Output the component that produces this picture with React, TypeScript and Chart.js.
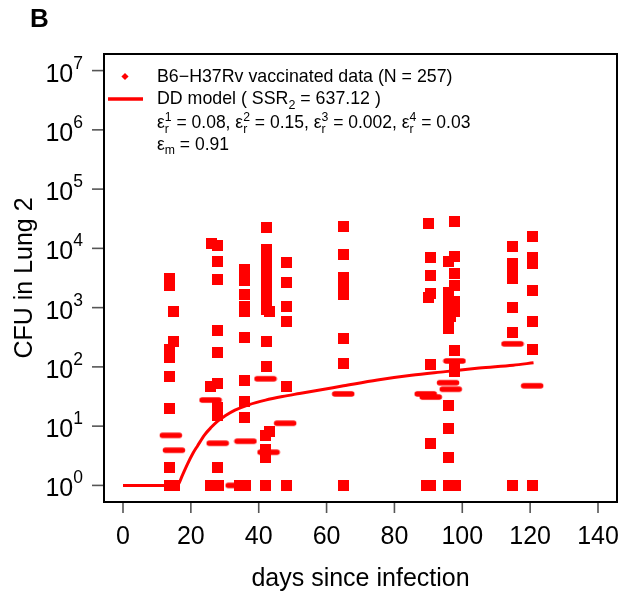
import React, { useEffect, useRef } from 'react';
import { Chart, registerables } from 'chart.js';

Chart.register(...registerables);

const RED = '#FF0000';
const FONT = '"Liberation Sans", Arial, Helvetica, sans-serif';

// ---- axis ticks ----
const xTicks = [0, 20, 40, 60, 80, 100, 120, 140];
const yExponents = [0, 1, 2, 3, 4, 5, 6, 7];

// ---- observed data (squares) ----
const squareDays = [
  13.8, 13.8, 15.0, 15.0, 13.8, 13.8, 13.8, 13.8, 13.8, 13.8, 15.3,
  26.1, 27.9, 27.9, 27.9, 27.9, 27.9, 25.8, 27.9, 27.9, 27.9, 27.9, 25.8, 28.2,
  35.8, 35.8, 35.8, 35.8, 35.8, 35.8, 35.8, 35.8, 35.8, 34.3, 36.1,
  42.3, 42.3, 42.3, 42.3, 42.3, 42.3, 42.3, 42.3, 43.1, 42.3, 42.3, 43.1, 42.0, 42.0, 42.0, 42.0,
  48.1, 48.1, 48.1, 48.1, 48.1, 48.1,
  64.9, 64.9, 64.9, 64.9, 64.9, 64.9, 64.9, 64.9,
  90.1, 90.7, 90.7, 90.7, 90.1, 90.7, 90.7, 89.5, 90.7,
  95.8, 95.8, 95.8, 95.8, 95.8, 95.8, 95.8, 95.8, 95.8, 95.8,
  97.7, 97.7, 97.7, 97.7, 97.7, 97.7, 96.6, 97.7, 97.7, 97.7, 98.0,
  114.8, 114.8, 114.8, 114.8, 114.8, 114.8, 114.8,
  120.6, 120.6, 120.6, 120.6, 120.6, 120.6, 120.6,
];
const squareCfu = [
  3125, 2340, 855, 265, 194, 142, 69, 19.8, 2.0, 1, 1,
  12200, 11200, 6000, 2980, 408, 176, 46, 53, 21, 15.4, 2.0, 1, 1,
  4400, 2870, 1660, 1040, 855, 316, 59, 26, 13.9, 1, 1,
  22200, 9600, 6500, 4400, 2980, 2020, 1370, 925, 855, 265, 100, 8.07, 6.9, 4.0, 2.98, 1,
  5800, 2650, 1040, 579, 47, 1,
  23600, 7900, 3220, 2270, 1660, 307, 112, 1,
  26500, 6900, 3420, 1730, 1510, 110, 5.05, 1, 1,
  5900, 1800, 1220, 823, 557, 440, 22, 9.25, 2.92, 1,
  28100, 7180, 3840, 2400, 1260, 855, 703, 187, 100, 85, 1,
  10800, 5460, 3920, 3160, 1000, 377, 1,
  16000, 7040, 5570, 1950, 579, 194, 1,
];

// ---- observed data (dashes) ----
const dashDays = [14.1, 15.0, 25.8, 27.9, 36.1, 33.5, 42.0, 42.9, 47.8, 64.9, 89.2, 90.7, 97.7, 95.8, 96.6, 114.8, 120.6];
const dashCfu = [7.0, 3.92, 27.6, 5.15, 5.57, 1, 63, 3.63, 11.2, 35, 35, 31, 126, 54, 42, 245, 48];

// ---- DD model curve ----
const modelDays = [0, 16, 17.5, 19, 20.5, 22, 24, 26, 28, 30, 33, 37, 42, 47, 52, 58, 65, 75, 85, 95, 105, 115, 121];
const modelCfu = [1, 1, 1.48, 2.29, 3.39, 4.68, 7.08, 9.55, 12.3, 14.8, 18.6, 22.9, 27.5, 31.6, 35.5, 40.7, 47.9, 60.3, 72.4, 83.2, 95.5, 107, 117];

// ---- texts ----
const panelLabel = 'B';
const xTitle = 'days since infection';
const yTitle = 'CFU in Lung 2';
const legendData = 'B6\u2212H37Rv vaccinated data (N = 257)';
const legendModelPre = 'DD model ( SSR';
const legendModelSub = '2';
const legendModelPost = ' = 637.12 )';
const epsR = ['1', '2', '3', '4'];
const epsRVals = ['0.08', '0.15', '0.002', '0.03'];
const epsMVal = '0.91';

type Part = { t?: string; sup?: string; sub?: string };

function drawRich(ctx: CanvasRenderingContext2D, x: number, base: number, parts: Part[], size: number) {
  const small = size * 0.7;
  let cx = x;
  for (const p of parts) {
    if (p.t !== undefined) {
      ctx.font = `${size}px ${FONT}`;
      ctx.fillText(p.t, cx, base);
      cx += ctx.measureText(p.t).width;
    } else {
      ctx.font = `${small}px ${FONT}`;
      let w = 0;
      if (p.sup) {
        ctx.fillText(p.sup, cx, base - size * 0.42);
        w = Math.max(w, ctx.measureText(p.sup).width);
      }
      if (p.sub) {
        ctx.fillText(p.sub, cx, base + size * 0.25);
        w = Math.max(w, ctx.measureText(p.sub).width);
      }
      cx += w;
    }
  }
}

const decorPlugin = {
  id: 'decor',
  afterDraw(chart: any) {
    const ctx: CanvasRenderingContext2D = chart.ctx;
    const { left, right, top, bottom } = chart.chartArea;
    const xs = chart.scales.x;
    const ys = chart.scales.y;
    ctx.save();
    ctx.fillStyle = '#000';

    // box
    ctx.strokeStyle = '#000';
    ctx.lineWidth = 2;
    ctx.strokeRect(left, top, right - left, bottom - top);

    // x ticks
    ctx.strokeStyle = '#555';
    ctx.lineWidth = 1.6;
    ctx.font = `25px ${FONT}`;
    ctx.textAlign = 'center';
    ctx.textBaseline = 'alphabetic';
    for (const t of xTicks) {
      const px = xs.getPixelForValue(t);
      ctx.beginPath();
      ctx.moveTo(px, bottom + 1);
      ctx.lineTo(px, bottom + 11);
      ctx.stroke();
      ctx.fillText(String(t), px, 544);
    }

    // y ticks
    for (const e of yExponents) {
      const py = ys.getPixelForValue(Math.pow(10, e));
      ctx.beginPath();
      ctx.moveTo(left - 1, py);
      ctx.lineTo(left - 12, py);
      ctx.stroke();
      ctx.textAlign = 'left';
      ctx.font = `17.5px ${FONT}`;
      const sw = ctx.measureText(String(e)).width;
      ctx.font = `25px ${FONT}`;
      const bw = ctx.measureText('10').width;
      const rightEdge = 83;
      const bx = rightEdge - sw - bw;
      ctx.fillText('10', bx, py + 11);
      ctx.font = `17.5px ${FONT}`;
      ctx.fillText(String(e), bx + bw, py - 2);
    }

    // axis titles
    ctx.font = `25px ${FONT}`;
    ctx.textAlign = 'center';
    ctx.fillText(xTitle, (left + right) / 2, 586);
    ctx.save();
    ctx.translate(32, (top + bottom) / 2);
    ctx.rotate(-Math.PI / 2);
    ctx.fillText(yTitle, 0, 0);
    ctx.restore();

    // panel label
    ctx.font = `bold 26px ${FONT}`;
    ctx.textAlign = 'left';
    ctx.fillText(panelLabel, 30, 27);

    // legend
    ctx.fillStyle = RED;
    ctx.beginPath();
    const dx = 125, dy = 76.5, dr = 3.6;
    ctx.moveTo(dx, dy - dr);
    ctx.lineTo(dx + dr, dy);
    ctx.lineTo(dx, dy + dr);
    ctx.lineTo(dx - dr, dy);
    ctx.closePath();
    ctx.fill();
    ctx.strokeStyle = RED;
    ctx.lineWidth = 3.5;
    ctx.beginPath();
    ctx.moveTo(108, 99);
    ctx.lineTo(143, 99);
    ctx.stroke();

    ctx.fillStyle = '#000';
    const lx = 157;
    drawRich(ctx, lx, 82, [{ t: legendData }], 17.8);
    drawRich(ctx, lx, 104.3, [{ t: legendModelPre }, { sub: legendModelSub }, { t: legendModelPost }], 17.8);
    const line3: Part[] = [];
    epsR.forEach((k, i) => {
      line3.push({ t: (i === 0 ? '' : ', ') + '\u03b5' });
      line3.push({ sup: k, sub: 'r' });
      line3.push({ t: ' = ' + epsRVals[i] });
    });
    drawRich(ctx, lx, 128.3, line3, 17.5);
    drawRich(ctx, lx, 150, [{ t: '\u03b5' }, { sub: 'm' }, { t: ' = ' + epsMVal }], 17.5);

    ctx.restore();
  },
};

export default function App() {
  const ref = useRef<HTMLCanvasElement>(null);
  useEffect(() => {
    document.body.style.margin = '0';
    const canvas = ref.current!;
    const mk = (w: number, h: number, draw: (c: CanvasRenderingContext2D) => void) => {
      const c = document.createElement('canvas');
      c.width = w;
      c.height = h;
      draw(c.getContext('2d')!);
      return c;
    };
    const sq = mk(11, 11, (c) => {
      c.fillStyle = RED;
      c.fillRect(0, 0, 11, 11);
    });
    const dash = mk(24, 8, (c) => {
      c.strokeStyle = RED;
      c.lineWidth = 5.5;
      c.lineCap = 'round';
      c.beginPath();
      c.moveTo(3.5, 4);
      c.lineTo(20.5, 4);
      c.stroke();
    });

    const chart = new Chart(canvas, {
      type: 'scatter',
      data: {
        datasets: [
          {
            type: 'line',
            label: 'model',
            data: modelDays.map((d, i) => ({ x: d, y: modelCfu[i] })),
            borderColor: RED,
            borderWidth: 3,
            pointRadius: 0,
            fill: false,
            cubicInterpolationMode: 'monotone',
            order: 0,
          } as any,
          {
            label: 'squares',
            data: squareDays.map((d, i) => ({ x: d, y: squareCfu[i] })),
            pointStyle: sq as any,
            pointRadius: 5,
            backgroundColor: RED,
            borderColor: RED,
            order: 1,
          },
          {
            label: 'dashes',
            data: dashDays.map((d, i) => ({ x: d, y: dashCfu[i] })),
            pointStyle: dash as any,
            pointRadius: 5,
            backgroundColor: RED,
            borderColor: RED,
            order: 2,
          },
        ],
      },
      options: {
        responsive: false,
        animation: false,
        devicePixelRatio: 1,
        layout: { padding: { left: 104, right: 17, top: 54, bottom: 92 } },
        plugins: { legend: { display: false }, tooltip: { enabled: false } },
        events: [],
        scales: {
          x: { type: 'linear', min: -5.6, max: 145.6, display: false },
          y: { type: 'logarithmic', min: Math.pow(10, -0.28), max: Math.pow(10, 7.28), display: false },
        },
      },
      plugins: [decorPlugin],
    });
    return () => chart.destroy();
  }, []);
  return <canvas ref={ref} width={634} height={594} style={{ display: 'block' }} />;
}
